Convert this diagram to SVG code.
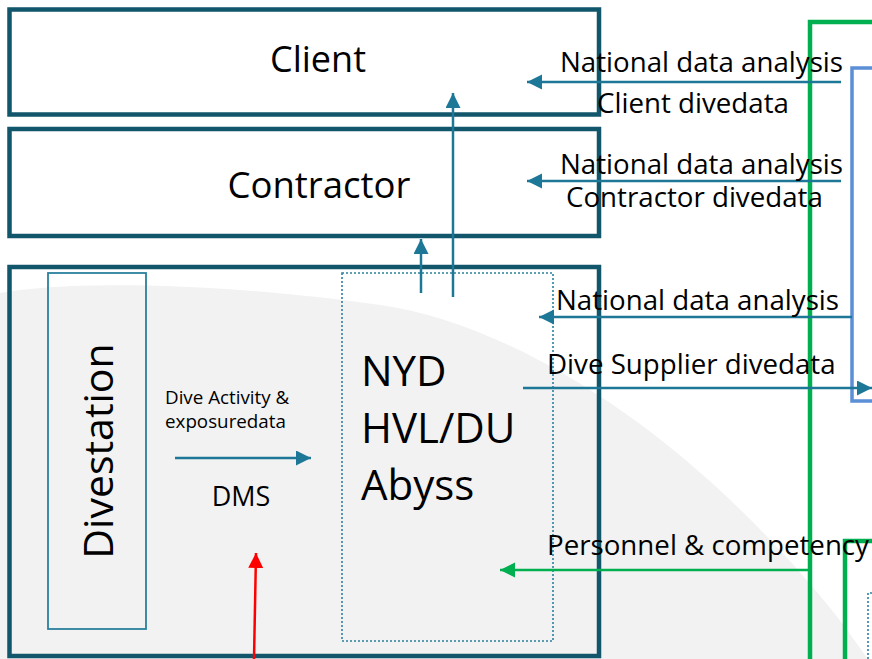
<svg xmlns="http://www.w3.org/2000/svg" width="872" height="659" viewBox="0 0 872 659">
<style>
.box{fill:none;stroke:#11566b;stroke-width:4.5}
.wbox{fill:#ffffff;stroke:#11566b;stroke-width:4.5}
.t{font-family:"Open Sans","Liberation Sans",sans-serif;fill:#000}
.lbl{font-size:27.7px}
.a{stroke:#1c7896;stroke-width:2.5;fill:none}
.g{stroke:#00b050;stroke-width:2.5;fill:none}
.r{stroke:#ff0000;stroke-width:2.5;fill:none}
</style>
<defs>
<marker id="ah" markerUnits="userSpaceOnUse" markerWidth="16" markerHeight="16" refX="15" refY="7.5" orient="auto"><path d="M0,0 L15,7.5 L0,15 z" fill="#1c7896"/></marker>
<marker id="ahg" markerUnits="userSpaceOnUse" markerWidth="16" markerHeight="16" refX="15" refY="7.5" orient="auto"><path d="M0,0 L15,7.5 L0,15 z" fill="#00b050"/></marker>
<marker id="ahr" markerUnits="userSpaceOnUse" markerWidth="16" markerHeight="16" refX="15" refY="7.5" orient="auto"><path d="M0,0 L15,7.5 L0,15 z" fill="#ff0000"/></marker>
</defs>
<rect width="872" height="659" fill="#ffffff"/>
<path d="M0,293 C60,282 200,280 380,305 C520,325 700,440 845,627 L872,665 L0,665 Z" fill="#f2f2f2"/>

<g id="client">
<rect class="wbox" x="9.5" y="9.5" width="589.5" height="105"/>
<text class="t" x="318" y="72" font-size="36" text-anchor="middle">Client</text>
</g>
<g id="contractor">
<rect class="wbox" x="9.5" y="129" width="589.5" height="107"/>
<text class="t" x="319" y="198" font-size="36.5" text-anchor="middle">Contractor</text>
</g>
<g id="divestation-area">
<rect class="box" x="9.5" y="267" width="589.5" height="389"/>
</g>
<g id="divestation">
<rect x="48" y="273" width="98" height="356" fill="none" stroke="#2a809c" stroke-width="1.8"/>
<text class="t" font-size="41" text-anchor="middle" transform="translate(113,451) rotate(-90)">Divestation</text>
</g>
<g id="dms">
<text class="t" x="241" y="506" font-size="27" text-anchor="middle">DMS</text>
</g>
<g id="nyd">
<rect x="342" y="273" width="211" height="368" fill="none" stroke="#2a809c" stroke-width="1.6" stroke-dasharray="2,2"/>
<text class="t" font-size="42"><tspan x="361" y="386">NYD</tspan><tspan x="361" y="443">HVL/DU</tspan><tspan x="361" y="500">Abyss</tspan></text>
</g>
<g id="national-box">
<path d="M810,659 L810,22 L872,22" fill="none" stroke="#00b050" stroke-width="4.5"/>
</g>
<g id="supplier-box">
<path d="M872,68 L852,68 L852,401 L872,401" fill="none" stroke="#5b8fd6" stroke-width="3.5"/>
</g>
<g id="personnel-box">
<path d="M845,659 L845,541 L872,541" fill="none" stroke="#00b050" stroke-width="4.5"/>
</g>
<g id="other-box">
<path d="M868,659 L868,593 L872,593" fill="none" stroke="#2a809c" stroke-width="1.6" stroke-dasharray="2,2"/>
</g>

<g id="connectors">
<line class="a" x1="841" y1="82" x2="527" y2="82" marker-end="url(#ah)"/>
<line class="a" x1="841" y1="181" x2="527" y2="181" marker-end="url(#ah)"/>
<line class="a" x1="852" y1="317" x2="539" y2="317" marker-end="url(#ah)"/>
<line class="a" x1="523" y1="388" x2="872" y2="388" marker-end="url(#ah)"/>
<line class="a" x1="453" y1="297" x2="453" y2="93" marker-end="url(#ah)"/>
<line class="a" x1="421" y1="293" x2="421" y2="239" marker-end="url(#ah)"/>
<line class="a" x1="175" y1="458" x2="311" y2="458" marker-end="url(#ah)"/>
<line class="g" x1="808" y1="570" x2="500" y2="570" marker-end="url(#ahg)"/>
<line class="r" x1="254" y1="659" x2="256" y2="553" marker-end="url(#ahr)"/>
<text class="t lbl" x="560" y="72">National data analysis</text>
<text class="t lbl" x="597" y="113">Client divedata</text>
<text class="t lbl" x="560" y="174">National data analysis</text>
<text class="t lbl" x="566" y="207">Contractor divedata</text>
<text class="t lbl" x="556" y="310">National data analysis</text>
<text class="t lbl" x="547" y="374">Dive Supplier divedata</text>
<text class="t lbl" x="547" y="555">Personnel &amp; competency</text>
<text class="t" x="165" y="404" font-size="18.8">Dive Activity &amp;</text>
<text class="t" x="165" y="428" font-size="18.8">exposuredata</text>
</g>
</svg>
